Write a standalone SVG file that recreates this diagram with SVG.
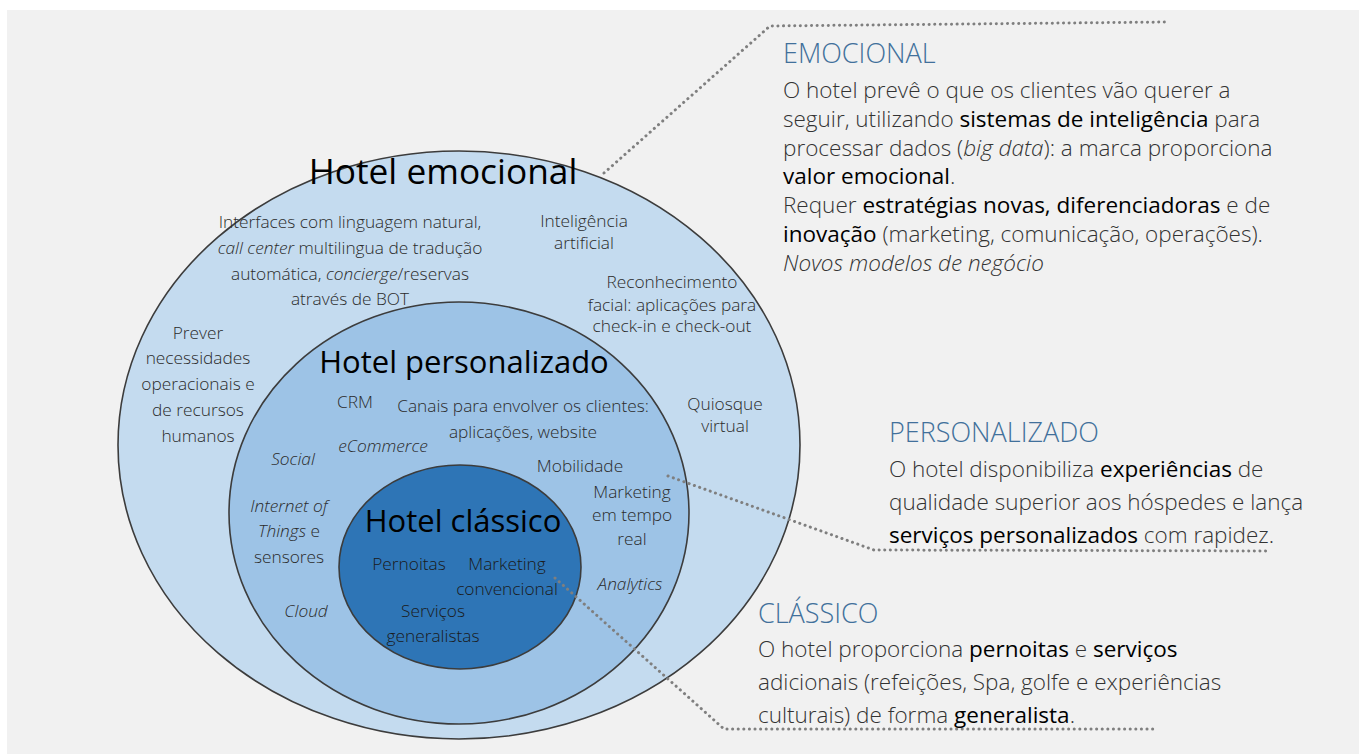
<svg xmlns="http://www.w3.org/2000/svg" width="1359" height="754" viewBox="0 0 1359 754">
<style>
.t{font-family:"Open Sans","Noto Sans",sans-serif;fill:#2b2b2b;}
.s{font-size:17.3px;font-weight:300;text-anchor:middle;}
.i{font-style:italic;}
.h{font-size:31px;font-weight:400;fill:#000;text-anchor:middle;}
.he{font-size:35.3px;}
.hd{font-size:27px;font-weight:300;fill:#41709b;}
.b{font-size:22.5px;font-weight:300;fill:#333;}
.k{font-weight:400;fill:#000;}
.dot{fill:none;stroke:#7f7f7f;stroke-width:3;stroke-dasharray:0.1 5.5;stroke-linecap:round;}
.ring{stroke:#3c3c3c;stroke-width:1.6;}
.dk{fill:#1a1a1a;}
</style>
<rect x="7" y="10" width="1352" height="744" fill="#f1f1f1"/>
<g id="node-emocional">
<ellipse class="ring" cx="459" cy="445" rx="341" ry="294" fill="#c4dbef"/>
<text class="t h he" x="443" y="184">Hotel emocional</text>
<text class="t s" x="350" y="228">Interfaces com linguagem natural,</text>
<text class="t s" x="350" y="254"><tspan class="i">call center</tspan> multilingua de tradução</text>
<text class="t s" x="350" y="280">automática, <tspan class="i">concierge</tspan>/reservas</text>
<text class="t s" x="350" y="305">através de BOT</text>
<text class="t s" x="584" y="227">Inteligência</text>
<text class="t s" x="584" y="249">artificial</text>
<text class="t s" x="672" y="288">Reconhecimento</text>
<text class="t s" x="672" y="311">facial: aplicações para</text>
<text class="t s" x="672" y="332">check-in e check-out</text>
<text class="t s" x="198" y="339">Prever</text>
<text class="t s" x="198" y="364">necessidades</text>
<text class="t s" x="198" y="390">operacionais e</text>
<text class="t s" x="198" y="416">de recursos</text>
<text class="t s" x="198" y="442">humanos</text>
<text class="t s" x="725" y="410">Quiosque</text>
<text class="t s" x="725" y="432">virtual</text>
</g>
<g id="node-personalizado">
<ellipse class="ring" cx="459" cy="513" rx="230" ry="211" fill="#9dc3e6"/>
<text class="t h" x="464" y="373">Hotel personalizado</text>
<text class="t s" x="355" y="408">CRM</text>
<text class="t s" x="523" y="412">Canais para envolver os clientes:</text>
<text class="t s" x="523" y="438">aplicações, website</text>
<text class="t s i" x="383" y="452">eCommerce</text>
<text class="t s i" x="293" y="465">Social</text>
<text class="t s" x="580" y="472">Mobilidade</text>
<text class="t s i" x="289" y="512">Internet of</text>
<text class="t s" x="289" y="537"><tspan class="i">Things</tspan> e</text>
<text class="t s" x="289" y="563">sensores</text>
<text class="t s" x="632" y="498">Marketing</text>
<text class="t s" x="632" y="521">em tempo</text>
<text class="t s" x="632" y="545">real</text>
<text class="t s i" x="630" y="590">Analytics</text>
<text class="t s i" x="306" y="617">Cloud</text>
</g>
<g id="node-classico">
<ellipse class="ring" cx="460" cy="567" rx="121" ry="102" fill="#2e75b6"/>
<text class="t h" x="463" y="532">Hotel clássico</text>
<text class="t s dk" x="409" y="570">Pernoitas</text>
<text class="t s dk" x="507" y="570">Marketing</text>
<text class="t s dk" x="507" y="595">convencional</text>
<text class="t s dk" x="433" y="617">Serviços</text>
<text class="t s dk" x="433" y="642">generalistas</text>
</g>
<g id="connectors">
<polyline class="dot" points="604,173 770,26 1167,22"/>
<polyline class="dot" points="668,476 874,550 1270,551"/>
<polyline class="dot" points="555,578 724,729 1157,729"/>
</g>
<g id="label-emocional">
<text class="t hd" x="783" y="63">EMOCIONAL</text>
<text class="t b" x="783" y="98">O hotel prevê o que os clientes vão querer a</text>
<text class="t b" x="783" y="127">seguir, utilizando <tspan class="k">sistemas de inteligência</tspan> para</text>
<text class="t b" x="783" y="156">processar dados (<tspan class="i">big data</tspan>): a marca proporciona</text>
<text class="t b" x="783" y="184"><tspan class="k">valor emocional</tspan>.</text>
<text class="t b" x="783" y="213">Requer <tspan class="k">estratégias novas, diferenciadoras</tspan> e de</text>
<text class="t b" x="783" y="242"><tspan class="k">inovação</tspan> (marketing, comunicação, operações).</text>
<text class="t b i" x="783" y="271">Novos modelos de negócio</text>
</g>
<g id="label-personalizado">
<text class="t hd" x="889" y="442">PERSONALIZADO</text>
<text class="t b" x="889" y="477">O hotel disponibiliza <tspan class="k">experiências</tspan> de</text>
<text class="t b" x="889" y="510">qualidade superior aos hóspedes e lança</text>
<text class="t b" x="889" y="543"><tspan class="k">serviços personalizados</tspan> com rapidez.</text>
</g>
<g id="label-classico">
<text class="t hd" x="758" y="623">CLÁSSICO</text>
<text class="t b" x="758" y="657">O hotel proporciona <tspan class="k">pernoitas</tspan> e <tspan class="k">serviços</tspan></text>
<text class="t b" x="758" y="690">adicionais (refeições, Spa, golfe e experiências</text>
<text class="t b" x="758" y="723">culturais) de forma <tspan class="k">generalista</tspan>.</text>
</g>
</svg>
